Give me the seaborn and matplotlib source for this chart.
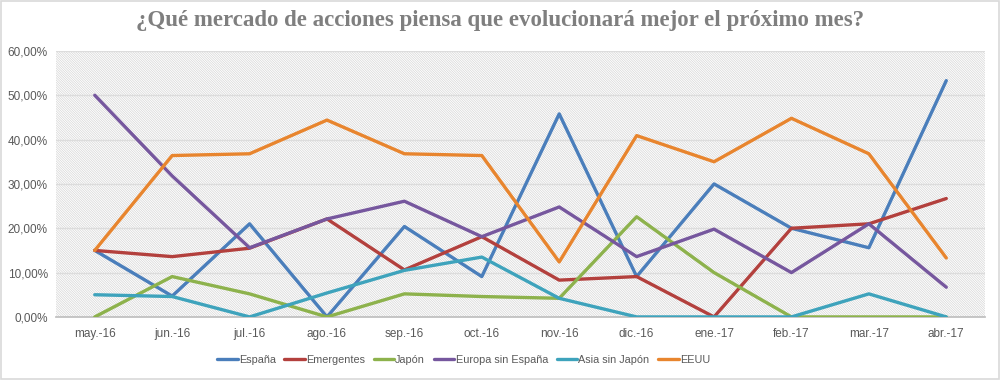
import seaborn as sns
import pandas as pd
import matplotlib.pyplot as plt
import matplotlib.ticker as ticker
from matplotlib.patches import Rectangle

months = ['may.-16', 'jun.-16', 'jul.-16', 'ago.-16', 'sep.-16', 'oct.-16',
          'nov.-16', 'dic.-16', 'ene.-17', 'feb.-17', 'mar.-17', 'abr.-17']

espana = [15.0, 4.7, 21.0, 0.0, 20.4, 9.1, 45.8, 9.1, 30.0, 20.0, 15.6, 53.3]
emergentes = [15.0, 13.6, 15.5, 22.1, 10.6, 18.1, 8.3, 9.1, 0.0, 20.0, 21.0, 26.7]
japon = [0.0, 9.1, 5.2, 0.0, 5.2, 4.6, 4.2, 22.6, 10.0, 0.0, 0.0, 0.0]
europa = [50.0, 31.8, 15.6, 22.1, 26.1, 18.1, 24.8, 13.6, 19.8, 10.0, 21.0, 6.7]
asia = [5.0, 4.6, 0.0, 5.4, 10.5, 13.5, 4.2, 0.0, 0.0, 0.0, 5.2, 0.0]
eeuu = [15.0, 36.4, 36.8, 44.4, 36.8, 36.4, 12.4, 40.9, 35.0, 44.8, 36.8, 13.3]

series_names = ['España', 'Emergentes', 'Japón', 'Europa sin España', 'Asia sin Japón', 'EEUU']
series_values = [espana, emergentes, japon, europa, asia, eeuu]
colors = ['#4a7ebb', '#b3403d', '#8db24c', '#76579e', '#3ea3bc', '#e8852e']

rows = []
for name, vals in zip(series_names, series_values):
    for i, v in enumerate(vals):
        rows.append({'pos': i, 'valor': v / 100.0, 'serie': name})
df = pd.DataFrame(rows)

sns.set_theme(style='white')
plt.rcParams['font.family'] = ['Liberation Sans', 'DejaVu Sans']
plt.rcParams['hatch.linewidth'] = 0.5

fig = plt.figure(figsize=(10.01, 3.8), dpi=100)
ax = fig.add_axes([0.056, 0.166, 0.928, 0.700])
ax.patch.set_facecolor('white')

# hatched background like the Excel pattern fill
bg = Rectangle((0, 0), 1, 1, transform=ax.transAxes, facecolor='white',
               edgecolor='#d6d6d6', linewidth=0, hatch='\\' * 14, zorder=0)
ax.add_patch(bg)

sns.lineplot(data=df, x='pos', y='valor', hue='serie', palette=colors,
             hue_order=series_names, linewidth=2.4, ax=ax, legend=True, zorder=3)

ax.set_xlim(-0.5, len(months) - 0.5)
ax.set_ylim(0, 0.6)
ax.set_xticks(range(len(months)))
ax.set_xticklabels(months)
ax.set_xticks([i - 0.5 for i in range(len(months) + 1)], minor=True)
ax.tick_params(axis='x', which='major', length=0, pad=8, labelsize=8.5, colors='#595959')
ax.tick_params(axis='x', which='minor', length=5, color='#bfbfbf', width=1)
ax.set_yticks([i / 10 for i in range(7)])
ax.yaxis.set_major_formatter(ticker.FuncFormatter(lambda v, p: f'{v * 100:.2f}%'.replace('.', ',')))
ax.tick_params(axis='y', length=0, pad=6, labelsize=8.5, colors='#595959')
ax.grid(axis='y', color='#dcdcdc', linewidth=1, zorder=1)
ax.set_axisbelow(True)
for s in ['top', 'right', 'left']:
    ax.spines[s].set_visible(False)
ax.spines['bottom'].set_color('#bfbfbf')
ax.set_xlabel('')
ax.set_ylabel('')

handles, labels = ax.get_legend_handles_labels()
ax.legend(handles, labels, loc='center', bbox_to_anchor=(0.463, 0.052), bbox_transform=fig.transFigure,
          ncol=6, frameon=False, fontsize=7.8, handlelength=1.9, handletextpad=0.1,
          columnspacing=0.8, labelcolor='#595959')

fig.text(0.5, 0.945, '¿Qué mercado de acciones piensa que evolucionará mejor el próximo mes?',
         ha='center', va='center', fontsize=16.5, fontweight='bold', color='#7f7f7f',
         family=['Liberation Serif', 'DejaVu Serif'])

fig.patches.append(Rectangle((0.001, 0.002), 0.997, 0.995, transform=fig.transFigure,
                             fill=False, edgecolor='#d9d9d9', linewidth=1.2))

fig.savefig('out.png', dpi=100)
